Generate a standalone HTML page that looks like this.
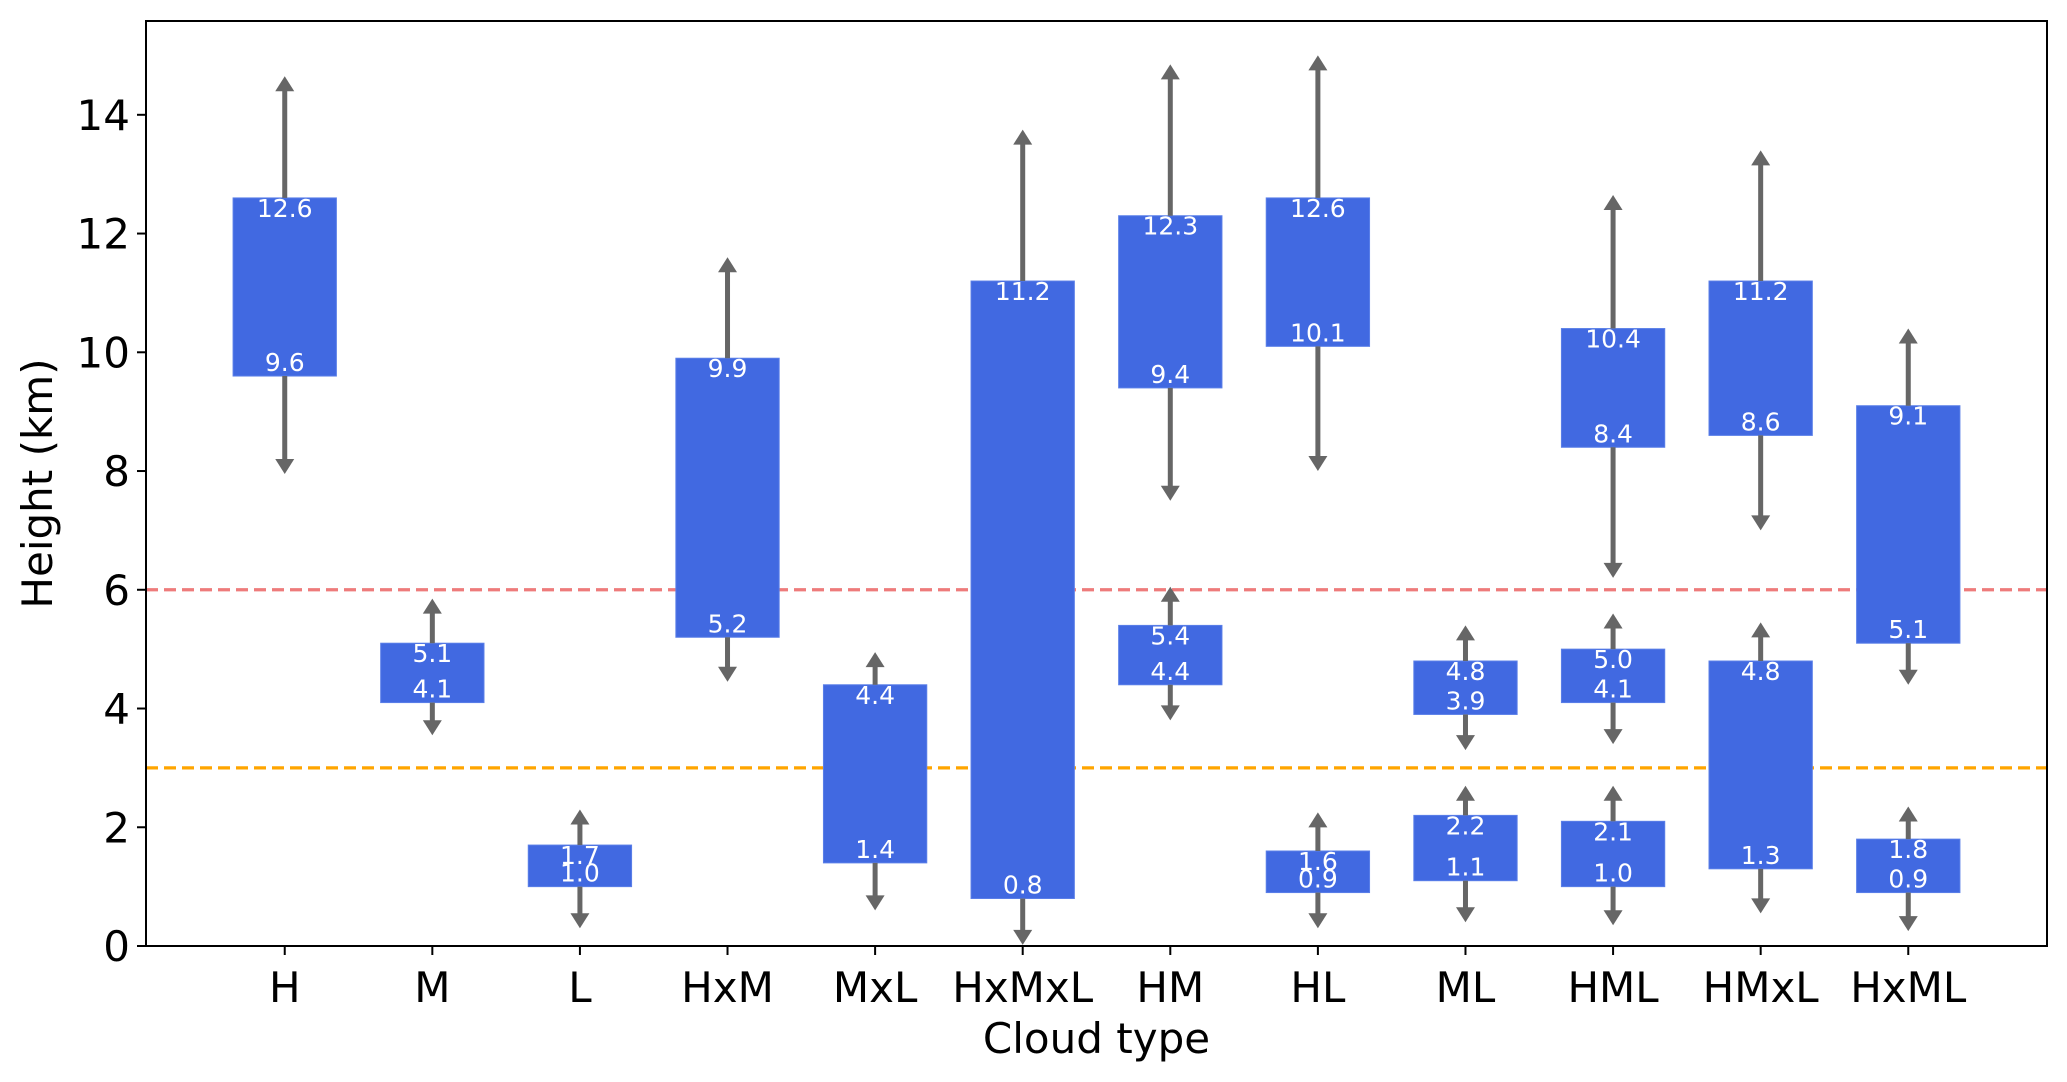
<!DOCTYPE html>
<html><head><meta charset="utf-8"><style>
html,body{margin:0;padding:0;background:#fff;}
svg{display:block;font-family:"DejaVu Sans","Liberation Sans",sans-serif;}
</style></head><body>
<svg id="chart" width="2067" height="1082" viewBox="0 0 2067 1082" xmlns="http://www.w3.org/2000/svg"></svg>
<script>
const categories = ["H","M","L","HxM","MxL","HxMxL","HM","HL","ML","HML","HMxL","HxML"];
const barCat  = [0,1,2,3,4,5,6,6,7,7,8,8,9,9,9,10,10,11,11];
const barLow  = [9.6,4.1,1.0,5.2,1.4,0.8,9.4,4.4,10.1,0.9,3.9,1.1,8.4,4.1,1.0,8.6,1.3,5.1,0.9];
const barHigh = [12.6,5.1,1.7,9.9,4.4,11.2,12.3,5.4,12.6,1.6,4.8,2.2,10.4,5.0,2.1,11.2,4.8,9.1,1.8];
const arrMin  = [7.95,3.55,0.3,4.45,0.6,0.02,7.5,3.8,8.0,0.3,3.3,0.4,6.2,3.4,0.35,7.0,0.55,4.4,0.25];
const arrMax  = [14.65,5.85,2.3,11.6,4.95,13.75,14.85,6.05,15.0,2.25,5.4,2.7,12.65,5.6,2.7,13.4,5.45,10.4,2.35];
const yTicks = [0,2,4,6,8,10,12,14];
const refLines = [6,3];

const L=146, R=2047, T=21, B=946;
const xMin=-0.94, xMax=11.94, yMin=0, yMax=15.58;
const xs = v => L + (v - xMin) / (xMax - xMin) * (R - L);
const ys = v => B - (v - yMin) / (yMax - yMin) * (B - T);
const NS="http://www.w3.org/2000/svg";
const svg=document.getElementById('chart');
function el(tag, attrs, parent){const e=document.createElementNS(NS,tag);for(const k in attrs)e.setAttribute(k,attrs[k]);(parent||svg).appendChild(e);return e;}

const refColors=["#ee7b7b","#ffa500"];
refLines.forEach((v,i)=>{
  const l=el('line',{x1:L,x2:R,y1:ys(v),y2:ys(v),stroke:refColors[i],'stroke-width':3.2,'stroke-dasharray':'12 6'});
  
  
});

const bw=(0.7)/(xMax-xMin)*(R-L);
barCat.forEach((c,i)=>{
  const cx=xs(c);
  const g=el('g',{});
  
  
  const y1=ys(barHigh[i]), y0=ys(barLow[i]);
  el('rect',{x:cx-bw/2,y:y1,width:bw,height:y0-y1,fill:'#4169e1',stroke:'#5a7fe8','stroke-width':1},g);
  const up=ys(arrMax[i]), dn=ys(arrMin[i]);
  el('line',{x1:cx,x2:cx,y1:y1,y2:up+14,stroke:'#666','stroke-width':5},g);
  el('polygon',{points:`${cx},${up} ${cx-9.5},${up+15} ${cx+9.5},${up+15}`,fill:'#666'},g);
  el('line',{x1:cx,x2:cx,y1:y0,y2:dn-14,stroke:'#666','stroke-width':5},g);
  el('polygon',{points:`${cx},${dn} ${cx-9.5},${dn-15} ${cx+9.5},${dn-15}`,fill:'#666'},g);
  const th=el('text',{x:cx,y:y1+19,'text-anchor':'middle',fill:'#fff','font-size':25},g);
  th.textContent=barHigh[i].toFixed(1);
  const tl=el('text',{x:cx,y:y0-5,'text-anchor':'middle',fill:'#fff','font-size':25},g);
  tl.textContent=barLow[i].toFixed(1);
});

const fr=el('rect',{x:L,y:T,width:R-L,height:B-T,fill:'none',stroke:'#000','stroke-width':2});



yTicks.forEach(v=>{
  el('line',{x1:L-9,x2:L,y1:ys(v),y2:ys(v),stroke:'#000','stroke-width':2});
  const t=el('text',{x:L-16,y:ys(v)+15,'text-anchor':'end','font-size':42,fill:'#000'});
  
  
  t.textContent=v;
});
categories.forEach((c,i)=>{
  el('line',{x1:xs(i),x2:xs(i),y1:B,y2:B+9,stroke:'#000','stroke-width':2});
  const t=el('text',{x:xs(i),y:B+56,'text-anchor':'middle','font-size':42,fill:'#000'});
  
  
  t.textContent=c;
});
const xt=el('text',{x:(L+R)/2,y:1053,'text-anchor':'middle','font-size':42,fill:'#000'});


xt.textContent='Cloud type';
const yt=el('text',{x:0,y:0,'text-anchor':'middle','font-size':42,fill:'#000',transform:`translate(52,${(T+B)/2}) rotate(-90)`});


yt.textContent='Height (km)';
</script>
</body></html>
